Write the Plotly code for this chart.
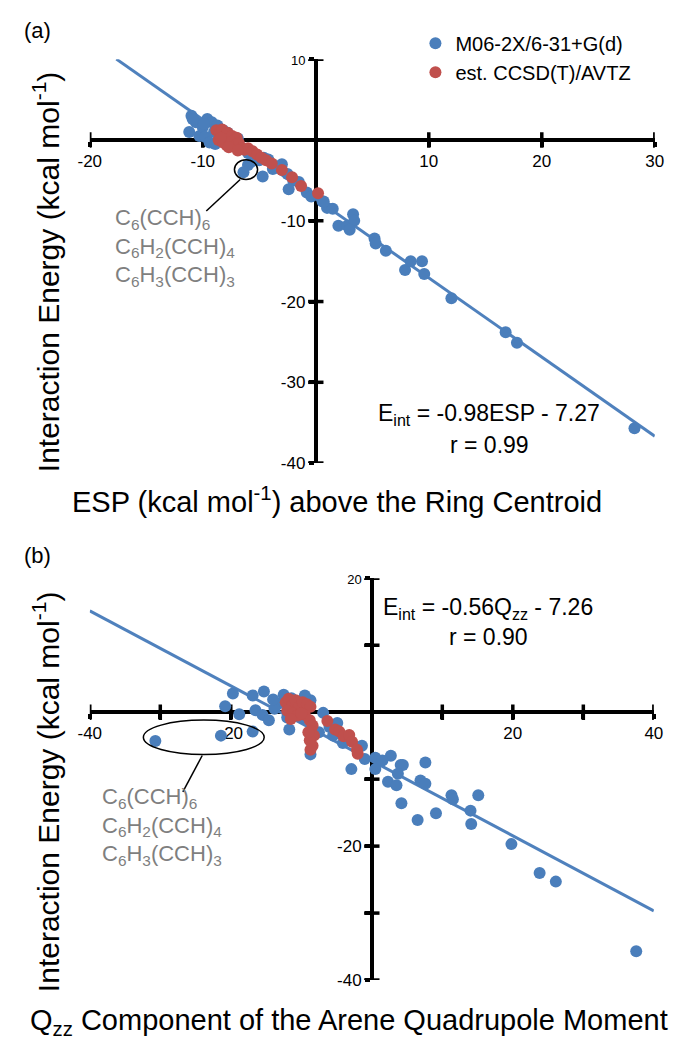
import plotly.graph_objects as go

# ---------------- data: panel (a) ESP vs E_int ----------------
esp_blue = [-11.2, -11.0, -10.6, -10.9, -10.3, -10.0, -9.6, -9.2, -9.8, -9.4, -9.0, -8.7, -8.5, -8.2,
            -8.0, -7.6, -7.2, -6.9, -6.5, -6.0, -5.5, -5.0, -4.6, -4.2, -3.6, -3.0, -2.5, -2.0, -1.5,
            -0.8, -0.4, 0.6, 1.0, 1.5, 2.0, 2.8, 3.3, 3.4, 3.0, 5.2, 5.3, 6.2, 7.9, 8.4, 9.4, 9.6,
            12.0, 16.8, 17.8, 28.2, -6.0, -6.4, -5.7, -4.7, -2.4, 0.7, -9.9, -8.9, -7.8, -3.8]
eint_blue_a = [1.0, 3.0, 2.2, 2.6, 0.5, 1.6, 2.6, 2.2, 0.4, -0.3, 1.0, 1.8, 0.2, 1.2,
               0.5, -0.5, -0.8, 0.2, -1.0, -1.6, -2.0, -2.5, -2.2, -2.4, -3.2, -3.0, -4.2, -5.0, -5.2,
               -6.5, -7.0, -7.6, -8.4, -8.5, -10.6, -10.6, -9.2, -10.0, -11.1, -12.2, -12.8, -13.7,
               -16.1, -15.0, -15.0, -16.6, -19.6, -23.8, -25.1, -35.7, -3.1, -4.0, -2.7, -4.5, -6.1,
               -7.6, 2.0, -0.5, 0.9, -3.6]
esp_red = [-8.8, -8.5, -8.3, -8.0, -7.8, -7.6, -7.4, -7.2, -7.0, -8.6, -8.2, -7.9, -7.5, -7.1, -6.8,
           -6.6, -6.3, -6.0, -5.6, -5.2, -4.8, -4.4, -3.9, -3.0, -2.1, -1.3, 0.2, -8.4, -7.7, -6.9]
eint_red_a = [1.2, 0.8, 1.3, 0.6, 0.9, 0.2, 0.5, -0.1, 0.3, 0.0, -0.3, -0.6, -0.2, -0.6, -0.4,
              -1.0, -1.2, -1.0, -1.4, -1.8, -2.2, -2.5, -2.9, -3.7, -4.6, -5.7, -6.6, 0.3, -0.9, -1.3]
fit_a = {"slope": -0.98, "intercept": -7.27}
fit_a_x = [-17.65, 30.0]

# ---------------- data: panel (b) Qzz vs E_int ----------------
qzz_blue = [-30.7, -21.4, -16.9, -20.8, -19.7, -18.8, -16.9, -15.3, -16.5, -15.5, -14.6, -13.2,
            -11.4, -8.7, -11.7, -10.4, -8.7, -6.9, -4.9, -4.1, -3.2, -2.9, -1.4, 0.5, 0.5, 2.7, 4.1,
            4.4, 3.7, 2.3, 3.5, 4.2, 6.5, 6.9, 7.6, 7.6, 9.1, 11.3, 11.5, 14.0, 14.1, 15.1, 19.8,
            23.8, 26.1, 37.5, -12.5, -10.0, -9.5, -13.8, -12.0, -7.5, -6.0, -5.5, -1.0, 1.5, -14.0, -9.8]
eint_blue_b = [-4.3, -3.5, -2.9, 0.9, 2.8, -0.3, 2.5, 3.1, 0.3, -0.4, -1.2, 1.3,
               2.1, 1.8, -2.6, 0.3, -6.3, -0.1, -1.6, -4.6, -4.1, -8.5, -5.0, -6.8, -8.5, -6.5, -7.9,
               -7.9, -9.2, -10.4, -10.9, -13.6, -16.1, -10.2, -10.7, -7.5, -15.1, -12.4, -13.0, -14.7,
               -16.7, -12.4, -19.7, -24.0, -25.3, -35.7, 2.6, 1.2, 2.5, 0.5, -0.8, -3.0, -2.2, -3.5,
               -7.0, -7.2, 1.9, -0.9]
qzz_red = [-12.2, -11.8, -11.3, -10.8, -10.3, -9.8, -9.2, -8.7, -12.0, -11.2, -10.5, -11.5, -9.5,
           -8.8, -8.4, -8.6, -8.2, -8.8, -8.4, -8.7, -9.0, -6.3, -5.2, -4.6, -4.0, -3.2, -2.8, -2.1,
           -2.0, -10.0]
eint_red_b = [1.5, 2.0, 1.0, 1.8, 0.8, 1.5, 1.2, 0.8, 0.2, -0.2, -0.5, -1.0, -0.4,
              -1.2, -2.0, -2.8, -3.5, -4.2, -5.0, -5.6, -3.0, -1.3, -2.6, -2.9, -3.6, -3.4, -4.4, -5.6,
              -6.2, -0.2]
fit_b = {"slope": -0.56, "intercept": -7.26}
fit_b_x = [-40.0, 40.0]

# ---------------- tick labels ----------------
xa_ticks = [-20, -10, 10, 20, 30]
xa_text = ["-20", "-10", "10", "20", "30"]
ya_ticks = [-40, -30, -20, -10, 10]
ya_text = ["-40", "-30", "-20", "-10", "<span style='font-size:13px'>10</span>"]
xb_ticks = [-40, -30, -20, -10, 10, 20, 30, 40]
xb_text = ["-40", " ", "-20", " ", " ", "20", " ", "40"]
yb_ticks = [-40, -30, -20, -10, 10, 20]
yb_text = ["-40", " ", "-20", " ", " ", "<span style='font-size:13px'>20</span>"]

BLUE = "#4A7EBB"
RED = "#C0504D"
LINE_BLUE = "#4F81BD"
FONT = "Arial, Liberation Sans, sans-serif"
W, H = 681, 1050

fig = go.Figure()

def tick_marks(xs_ticks, ys_ticks, xa, ya):
    fig.add_trace(go.Scatter(x=xs_ticks, y=[0] * len(xs_ticks), xaxis=xa, yaxis=ya, mode="markers",
                             marker=dict(symbol="line-ns", size=11, line=dict(color="black", width=3.5)),
                             showlegend=False, hoverinfo="skip"))
    fig.add_trace(go.Scatter(x=[0] * len(ys_ticks), y=ys_ticks, xaxis=xa, yaxis=ya, mode="markers",
                             marker=dict(symbol="line-ew", size=11, line=dict(color="black", width=3.5)),
                             showlegend=False, hoverinfo="skip"))

def fit_line(xs, fit, xa, ya):
    ys = [fit["slope"] * v + fit["intercept"] for v in xs]
    fig.add_trace(go.Scatter(x=xs, y=ys, xaxis=xa, yaxis=ya, mode="lines",
                             line=dict(color=LINE_BLUE, width=3), showlegend=False, hoverinfo="skip"))

MS = 12
# panel (a)
tick_marks(xa_ticks, ya_ticks, "x", "y")
fit_line(fit_a_x, fit_a, "x", "y")
fig.add_trace(go.Scatter(x=esp_blue, y=eint_blue_a, xaxis="x", yaxis="y", mode="markers",
                         marker=dict(color=BLUE, size=MS), name="M06-2X/6-31+G(d)"))
fig.add_trace(go.Scatter(x=esp_red, y=eint_red_a, xaxis="x", yaxis="y", mode="markers",
                         marker=dict(color=RED, size=MS), name="est. CCSD(T)/AVTZ"))
# panel (b)
tick_marks(xb_ticks, yb_ticks, "x2", "y2")
fit_line(fit_b_x, fit_b, "x2", "y2")
fig.add_trace(go.Scatter(x=qzz_blue, y=eint_blue_b, xaxis="x2", yaxis="y2", mode="markers",
                         marker=dict(color=BLUE, size=MS), showlegend=False))
fig.add_trace(go.Scatter(x=qzz_red, y=eint_red_b, xaxis="x2", yaxis="y2", mode="markers",
                         marker=dict(color=RED, size=MS), showlegend=False))

def px(xp):
    return xp / W

def py(yp):
    return 1 - yp / H

axis_common = dict(showline=True, linecolor="black", linewidth=3.5, ticks="outside", ticklen=5,
                   tickwidth=3.5, tickcolor="black", showgrid=False, zeroline=False,
                   tickfont=dict(family=FONT, size=17, color="black"), layer="below traces",
                   tickmode="array", anchor="free", fixedrange=True)

fig.update_layout(
    width=W, height=H, margin=dict(l=0, r=0, t=0, b=0),
    paper_bgcolor="white", plot_bgcolor="rgba(0,0,0,0)",
    font=dict(family=FONT, color="black"),
    xaxis=dict(**axis_common, domain=[px(72), px(655)], range=[-20, 30], position=py(128),
               tickvals=xa_ticks, ticktext=xa_text),
    yaxis=dict(**axis_common, domain=[py(456), py(46)], range=[-40, 10], position=px(305),
               tickvals=ya_ticks, ticktext=ya_text),
    xaxis2=dict(**axis_common, domain=[px(72), px(654)], range=[-40, 40], position=py(709),
                tickvals=xb_ticks, ticktext=xb_text),
    yaxis2=dict(**axis_common, domain=[py(981), py(573)], range=[-40, 20], position=px(363),
                tickvals=yb_ticks, ticktext=yb_text),
    legend=dict(x=px(408), y=py(10), xanchor="left", yanchor="top", bgcolor="rgba(0,0,0,0)",
                font=dict(family=FONT, size=20, color="black"), tracegroupgap=0, itemwidth=30),
    showlegend=True,
)

GREY = "#7F7F7F"
# annotation ellipses and leader lines (data coordinates)
fig.add_shape(type="circle", xref="x", yref="y", x0=-7.2, x1=-5.15, y0=-4.88, y1=-2.44,
              line=dict(color="black", width=1.5))
fig.add_shape(type="line", xref="x", yref="y", x0=-6.69, y0=-4.88, x1=-9.69, y1=-8.78,
              line=dict(color="black", width=1.5))
fig.add_shape(type="circle", xref="x2", yref="y2", x0=-32.4, x1=-15.26, y0=-6.32, y1=-1.18,
              line=dict(color="black", width=1.5))
fig.add_shape(type="line", xref="x2", yref="y2", x0=-24.05, y0=-6.47, x1=-26.8, y1=-11.9,
              line=dict(color="black", width=1.5))

labels_txt = ("C<sub>6</sub>(CCH)<sub>6</sub><br>C<sub>6</sub>H<sub>2</sub>(CCH)<sub>4</sub><br>"
              "C<sub>6</sub>H<sub>3</sub>(CCH)<sub>3</sub>")

ann = [
    dict(x=px(2), y=py(2), text="(a)", xanchor="left", yanchor="top", font=dict(size=22)),
    dict(x=px(2), y=py(535), text="(b)", xanchor="left", yanchor="top", font=dict(size=22)),
    dict(x=px(96), y=py(192), text=labels_txt, xanchor="left", yanchor="top", align="left",
         font=dict(size=22, color=GREY)),
    dict(x=px(83), y=py(780), text=labels_txt, xanchor="left", yanchor="top", align="left",
         font=dict(size=22, color=GREY)),
    dict(x=px(27), y=py(262), text="Interaction Energy (kcal mol<sup>-1</sup>)", textangle=-90,
         xanchor="center", yanchor="middle", font=dict(size=30)),
    dict(x=px(27), y=py(790), text="Interaction Energy (kcal mol<sup>-1</sup>)", textangle=-90,
         xanchor="center", yanchor="middle", font=dict(size=30)),
    dict(x=px(327), y=py(494), text="ESP (kcal mol<sup>-1</sup>) above the Ring Centroid",
         xanchor="center", yanchor="middle", font=dict(size=29)),
    dict(x=px(339), y=py(1024), text="Q<sub>zz</sub> Component of the Arene Quadrupole Moment",
         xanchor="center", yanchor="middle", font=dict(size=29)),
    dict(x=px(484), y=py(407), text="E<sub>int</sub> = -0.98ESP - 7.27",
         xanchor="center", yanchor="middle", font=dict(size=23)),
    dict(x=px(484), y=py(438), text="r = 0.99", xanchor="center", yanchor="middle", font=dict(size=23)),
    dict(x=px(483), y=py(604), text="E<sub>int</sub> = -0.56Q<sub>zz</sub> - 7.26",
         xanchor="center", yanchor="middle", font=dict(size=23)),
    dict(x=px(483), y=py(633), text="r = 0.90", xanchor="center", yanchor="middle", font=dict(size=23)),
]
for a in ann:
    a.update(xref="paper", yref="paper", showarrow=False)
    a.setdefault("font", {})
    a["font"].setdefault("family", FONT)
    a["font"].setdefault("color", "black")
    fig.add_annotation(**a)

fig.write_html("out.html")
